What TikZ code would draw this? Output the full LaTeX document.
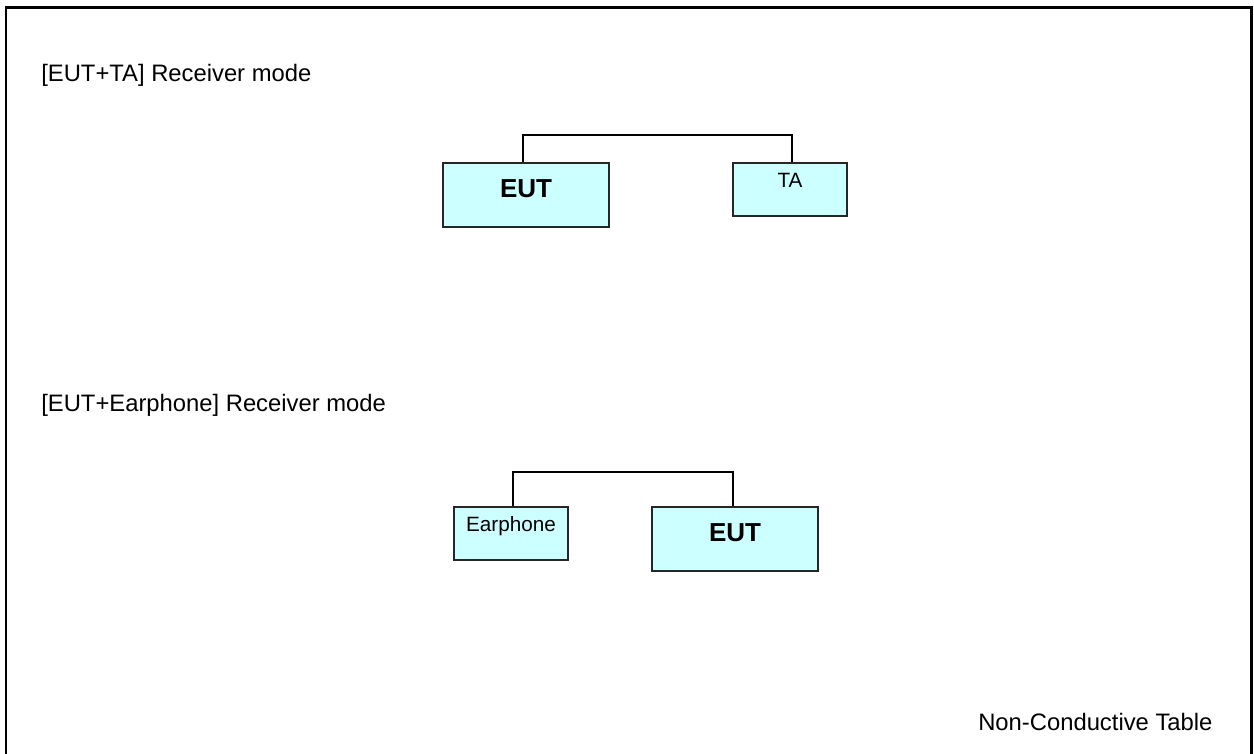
\documentclass[tikz,border=0pt]{standalone}
\usepackage{fontspec}
\setmainfont{Liberation Sans}
\usetikzlibrary{positioning}
\definecolor{boxfill}{RGB}{204,255,255}

\begin{document}
\begin{tikzpicture}[x=1pt,y=-1pt,semithick,
                    unit/.style={draw=black!85,line width=1.3pt,fill=boxfill,inner sep=0pt},
                    eutbox/.style={unit,minimum width=166,minimum height=64,
                                   font=\fontsize{26}{30}\selectfont\bfseries},
                    auxbox/.style={unit,minimum width=114,minimum height=53,
                                   font=\fontsize{20.7}{24}\selectfont},
                    heading/.style={anchor=base west,inner sep=0pt,
                                    font=\fontsize{23.8}{28}\selectfont},
                    cable/.style={line width=1.8pt}]

  \useasboundingbox (0,0) rectangle (1254,753);
  \draw [line width=2.4pt] (6,7.5) rectangle (1251.5,790);

  % first setup
  \node [heading] (h1) at (41,81.5) {[EUT+TA] Receiver mode};
  \node [eutbox, text height=18.6, text depth=14.6] (eut1) at (526,195) {EUT};
  \node [auxbox, text height=14.8, text depth=19] (ta) at (790,189.5) {TA};
  \coordinate (k1) at (0,135);

  \draw [cable] ([xshift=-3]eut1.north) -- ([xshift=-3]eut1.north |- k1) -- ([xshift=2]ta.north |- k1) -- ([xshift=2]ta.north);

  % second setup
  \node [heading] (h2) at (41,411) {[EUT+Earphone] Receiver mode};
  \node [auxbox, text height=15.5, text depth=19.5] (ear) at (511,533.5) {Earphone};
  \node [eutbox, text height=18.6, text depth=14] (eut2) at (735,539) {EUT};
  \coordinate (k2) at (0,472);

  \draw [cable] ([xshift=2]ear.north) -- ([xshift=2]ear.north |- k2) -- ([xshift=-2]eut2.north |- k2) -- ([xshift=-2]eut2.north);

  \node [heading] (tbl) at (978,730) {Non-Conductive Table};

\end{tikzpicture}
\end{document}
